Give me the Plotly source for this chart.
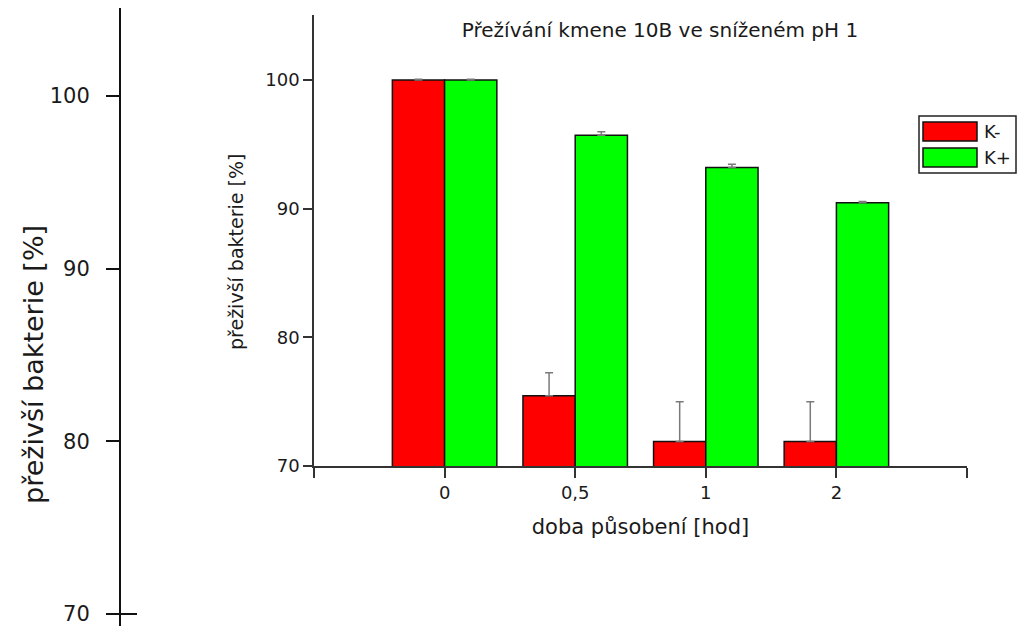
import plotly.graph_objects as go

# ---- data ----
categories = ["0", "0,5", "1", "2"]
series_names = ["K-", "K+"]
series_colors = ["#ff0000", "#00ff00"]
k_minus = [100.0, 75.45, 71.9, 71.9]
k_minus_err = [0.05, 1.8, 3.1, 3.1]
k_plus = [100.0, 95.7, 93.2, 90.45]
k_plus_err = [0.05, 0.28, 0.25, 0.1]
y_ticks = [70, 80, 90, 100]

W, H = 1019, 626
FONT = "DejaVu Sans"
TXT = "#1a1a1a"

x_pos = list(range(len(categories)))
fig = go.Figure()
for name, color, vals, errs in [
    (series_names[0], series_colors[0], k_minus, k_minus_err),
    (series_names[1], series_colors[1], k_plus, k_plus_err),
]:
    fig.add_trace(go.Bar(
        x=x_pos, y=vals, name=name, showlegend=False,
        marker=dict(color=color, line=dict(color="#111111", width=1.5)),
        error_y=dict(type="data", symmetric=False, array=errs,
                     arrayminus=[0] * len(errs), color="#7a7a7a",
                     thickness=1.5, width=4),
        xaxis="x", yaxis="y",
    ))

# invisible trace to host the cut-off left axis
fig.add_trace(go.Scatter(x=[], y=[], xaxis="x2", yaxis="y2",
                         showlegend=False, hoverinfo="skip"))

x_tickvals = [-1] + x_pos + [len(categories)]
x_ticktext = [""] + categories + [""]

fig.update_layout(
    width=W, height=H,
    margin=dict(l=0, r=0, t=0, b=0, autoexpand=False),
    paper_bgcolor="white", plot_bgcolor="white",
    barmode="group", bargap=0.2, bargroupgap=0,
    font=dict(family=FONT, color=TXT),
    title=dict(text="Přežívání kmene 10B ve sníženém pH 1",
               x=660 / W, xanchor="center", y=1 - 30 / H, yanchor="middle",
               font=dict(family=FONT, size=20, color=TXT)),
    xaxis=dict(domain=[314 / W, 967 / W], anchor="y", automargin=False,
               range=[-1, len(categories)], tickvals=x_tickvals,
               ticktext=x_ticktext, ticks="outside", ticklen=10,
               tickcolor="#333", tickwidth=1.5,
               showline=True, linecolor="#333", linewidth=1.5,
               showgrid=False, zeroline=False,
               tickfont=dict(size=18),
               title=dict(text="doba působení [hod]", font=dict(size=21),
                          standoff=17)),
    yaxis=dict(domain=[160 / H, 611 / H], anchor="x", automargin=False,
               range=[70, 105.05], tickvals=y_ticks,
               ticks="outside", ticklen=9, tickcolor="#333", tickwidth=1.5,
               showline=True, linecolor="#333", linewidth=1.5,
               showgrid=False, zeroline=False,
               tickfont=dict(size=18)),
    xaxis2=dict(domain=[121 / W, 0.2], anchor="y2", visible=False,
                range=[0, 1], automargin=False),
    yaxis2=dict(domain=[0, 618 / H], anchor="x2", automargin=False,
                range=[69.305, 105.095], tickvals=y_ticks,
                ticks="outside", ticklen=13, tickcolor="#111", tickwidth=2,
                showline=True, linecolor="#111", linewidth=2,
                showgrid=False, zeroline=False,
                ticklabeloverflow="allow",
                tickfont=dict(size=21), ticklabelstandoff=12),
)

# axis titles placed as rotated text
fig.add_annotation(text="přeživší bakterie [%]", xref="paper", yref="paper",
                   x=236 / W, y=1 - 252 / H, textangle=-90, showarrow=False,
                   xanchor="center", yanchor="middle",
                   font=dict(size=19, color=TXT))
fig.add_annotation(text="přeživší bakterie [%]", xref="paper", yref="paper",
                   x=33 / W, y=1 - 365 / H, textangle=-90, showarrow=False,
                   xanchor="center", yanchor="middle",
                   font=dict(size=27, color=TXT))

# small tick continuation at 70 on the left axis
fig.add_shape(type="line", xref="paper", yref="y2",
              x0=121 / W, x1=137 / W, y0=y_ticks[0], y1=y_ticks[0],
              line=dict(color="#111", width=2))

# custom legend (box with wide swatches)
fig.add_shape(type="rect", xref="paper", yref="paper",
              x0=919 / W, x1=1016 / W, y0=1 - 173 / H, y1=1 - 116 / H,
              line=dict(color="#222", width=1.5), fillcolor="white")
for i, (name, color) in enumerate(zip(series_names, series_colors)):
    yc = 1 - (131.5 + i * 26) / H
    fig.add_shape(type="rect", xref="paper", yref="paper",
                  x0=923 / W, x1=977 / W, y0=yc - 9.5 / H, y1=yc + 9.5 / H,
                  fillcolor=color, line=dict(color="#111", width=1.5))
    fig.add_annotation(text=name, xref="paper", yref="paper",
                       x=982 / W, y=yc, xanchor="left", yanchor="middle",
                       showarrow=False,
                       font=dict(family=FONT, size=18, color=TXT))

fig.write_html("out.html")
